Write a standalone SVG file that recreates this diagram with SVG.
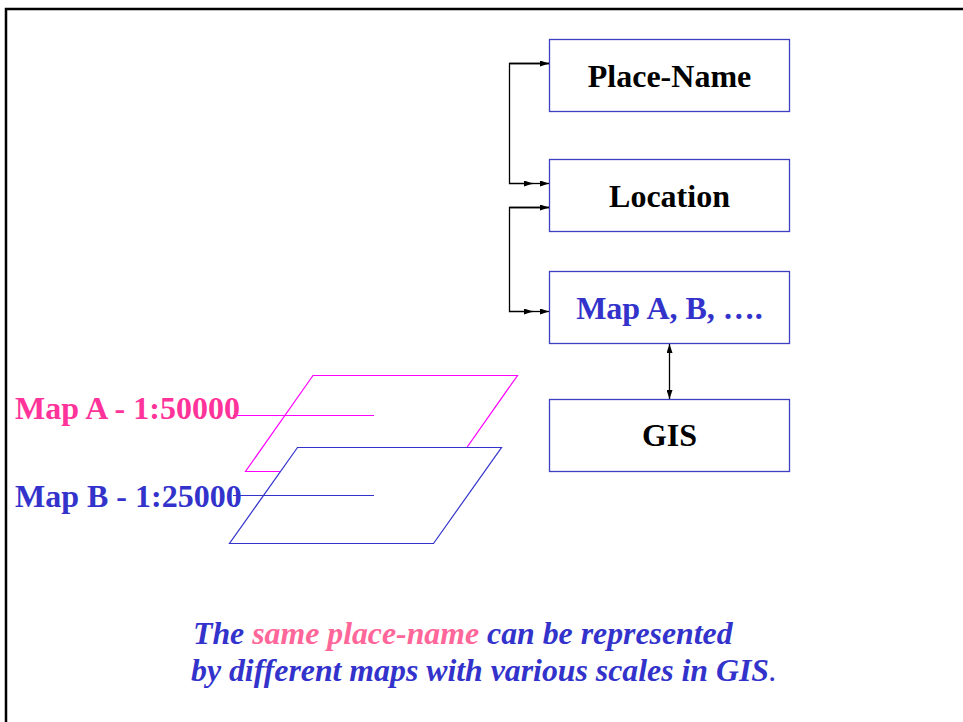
<svg xmlns="http://www.w3.org/2000/svg" width="963" height="722" viewBox="0 0 963 722">
  <style>
    .box { fill: #ffffff; stroke: #3f3fc4; stroke-width: 1.3; }
    .lbl { font-family: "Liberation Serif", "Times New Roman", serif; font-weight: bold; font-size: 32px; }
    .center { text-anchor: middle; }
    .dark { fill: #000000; }
    .blue { fill: #3333cc; }
    .pink { fill: #ff3399; }
    .conn { fill: none; stroke: #000000; stroke-width: 1.3; }
    .note { font-family: "Liberation Serif", "Times New Roman", serif; font-weight: bold; font-style: italic; font-size: 31.8px; fill: #3333cc; }
  </style>
  <defs>
    <marker id="arrow" viewBox="0 0 9 6" refX="9" refY="3" markerWidth="9" markerHeight="6" markerUnits="userSpaceOnUse" orient="auto-start-reverse">
      <path d="M0,0 L9,3 L0,6 z" fill="#000000"/>
    </marker>
  </defs>

  <!-- page frame -->
  <rect x="6" y="9" width="980" height="730" fill="none" stroke="#000000" stroke-width="2.5"/>

  <!-- map sheets -->
  <g id="map-sheets">
    <polygon points="313,375.5 517.5,375.5 450,471.5 245.5,471.5" fill="none" stroke="#ff00ff" stroke-width="1.2"/>
    <line x1="233" y1="415.5" x2="374" y2="415.5" stroke="#ff00ff" stroke-width="1.2"/>
    <polygon points="297.5,447.5 501.5,447.5 433.5,543.5 229.5,543.5" fill="#ffffff" stroke="#3333cc" stroke-width="1.2"/>
    <line x1="233" y1="495.5" x2="374" y2="495.5" stroke="#3333cc" stroke-width="1.2"/>
  </g>

  <g id="label-map-a">
    <text class="lbl pink" x="15" y="419">Map A - 1:50000</text>
  </g>
  <g id="label-map-b">
    <text class="lbl blue" x="15" y="507">Map B - 1:25000</text>
  </g>

  <!-- nodes -->
  <g id="node-place-name">
    <rect class="box" x="549.5" y="39.5" width="240" height="72"/>
    <text class="lbl dark center" x="669.5" y="87">Place-Name</text>
  </g>
  <g id="node-location">
    <rect class="box" x="549.5" y="159.5" width="240" height="72"/>
    <text class="lbl dark center" x="669.5" y="207">Location</text>
  </g>
  <g id="node-maps">
    <rect class="box" x="549.5" y="271.5" width="240" height="72"/>
    <text class="lbl blue center" x="669.5" y="319">Map A, B, ….</text>
  </g>
  <g id="node-gis">
    <rect class="box" x="549.5" y="399.5" width="240" height="72"/>
    <text class="lbl dark center" x="669.5" y="446">GIS</text>
  </g>

  <!-- connectors -->
  <g id="connectors">
    <path class="conn" d="M549,63.5 H509.5 V183.5 H533" marker-end="url(#arrow)"/>
    <path class="conn" d="M509.5,63.5 H549" marker-end="url(#arrow)"/>
    <path class="conn" d="M533,183.5 H549" marker-end="url(#arrow)"/>
    <path class="conn" d="M549,207.5 H509.5 V311.5 H533" marker-end="url(#arrow)"/>
    <path class="conn" d="M509.5,207.5 H549" marker-end="url(#arrow)"/>
    <path class="conn" d="M533,311.5 H549" marker-end="url(#arrow)"/>
    <path class="conn" d="M669.5,344 V399" marker-start="url(#arrow)" marker-end="url(#arrow)"/>
  </g>

  <!-- caption -->
  <g id="caption">
    <text class="note" x="193" y="644">The <tspan fill="#ff6699">same place-name</tspan> can be represented</text>
    <text class="note" x="191" y="681">by different maps with various scales in GIS<tspan font-weight="normal">.</tspan></text>
  </g>
</svg>
